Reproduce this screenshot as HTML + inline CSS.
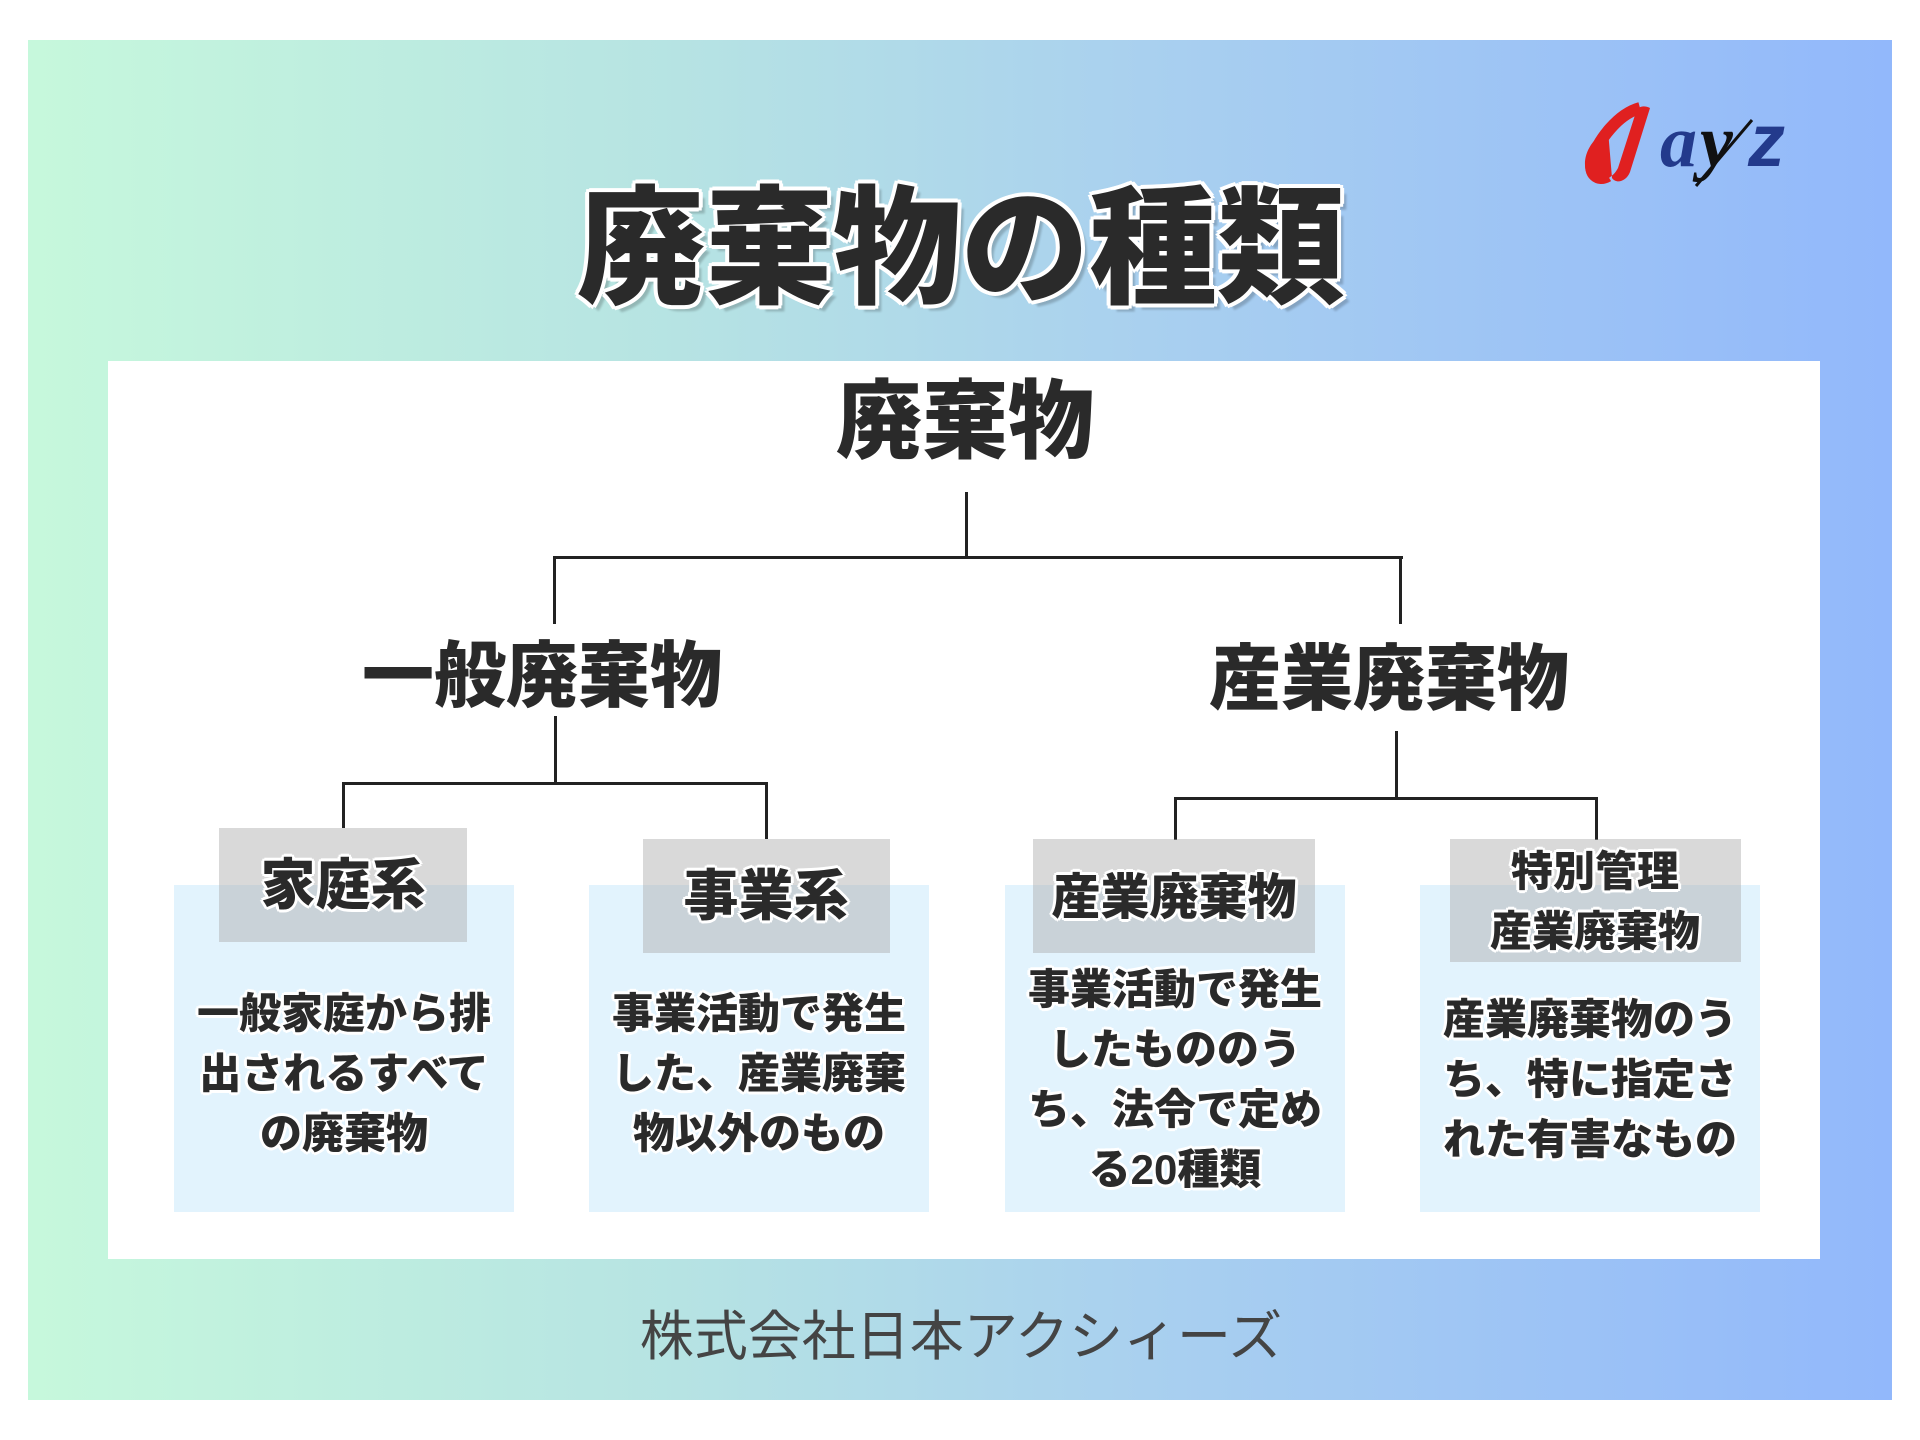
<!DOCTYPE html>
<html><head><meta charset="utf-8"><style>
*{margin:0;padding:0;box-sizing:border-box}
body{width:1920px;height:1440px;background:#fff;position:relative;overflow:hidden;font-family:"Liberation Sans","Noto Sans CJK JP",sans-serif}
.a{position:absolute}
.grad{left:28px;top:40px;width:1864px;height:1360px;background:linear-gradient(90deg,#c6f8dc 0%,#b6e3e3 35%,#a9d0ef 60%,#92b8fb 100%)}
.white{left:108px;top:361px;width:1712px;height:898px;background:#fff}
.t{position:absolute;text-align:center;font-weight:900;color:#2a2a2a;white-space:nowrap;transform:translateX(-50%)}
.ol{text-shadow:3px 0 #fff,-3px 0 #fff,0 3px #fff,0 -3px #fff,2px 2px #fff,-2px -2px #fff,2px -2px #fff,-2px 2px #fff}
.l{position:absolute;background:#222}
.box{position:absolute;background:#e2f3fd;top:885px;height:327px;width:340px}
.hd{position:absolute;background:rgba(170,170,170,0.45)}
.body{position:absolute;text-align:center;font-weight:900;color:#2a2a2a;font-size:42px;line-height:60px;width:340px}
</style></head><body>
<div class="a grad"></div>
<div class="a white"></div>
<svg class="a" style="left:1578px;top:100px" width="240" height="90" viewBox="0 0 240 90">
<path d="M62 8 C40 14 20 40 14 60 C10 74 20 82 30 76" fill="none" stroke="#e02020" stroke-width="12"/>
<path d="M30 30 C10 40 2 62 10 76 C18 86 34 80 40 68 L58 12 C60 6 66 5 72 8 L52 72 C48 82 38 84 34 78 Z" fill="#e02020"/>
<text x="82" y="66" font-family="Liberation Serif,serif" font-style="italic" font-weight="bold" font-size="74" fill="#233a8c">a</text>
<text x="122" y="66" font-family="Liberation Serif,serif" font-style="italic" font-weight="bold" font-size="74" fill="#111">y</text>
<text x="170" y="66" font-family="Liberation Sans,sans-serif" font-style="italic" font-weight="bold" font-size="74" fill="#233a8c">z</text>
<line x1="118" y1="86" x2="174" y2="20" stroke="#111" stroke-width="3"/>
</svg>
<div class="t ol" style="left:961px;top:172px;font-size:128px;line-height:155px;text-shadow:4px 0 #fff,-4px 0 #fff,0 4px #fff,0 -4px #fff,3px 3px #fff,-3px -3px #fff,3px -3px #fff,-3px 3px #fff,6px 6px 2px rgba(0,0,0,0.2)">廃棄物の種類</div>
<div class="t ol" style="left:965px;top:370px;font-size:86px;line-height:104px">廃棄物</div>
<div class="l" style="left:965px;top:492px;width:3px;height:66px"></div>
<div class="l" style="left:553px;top:556px;width:850px;height:3px"></div>
<div class="l" style="left:553px;top:556px;width:3px;height:68px"></div>
<div class="l" style="left:1399px;top:556px;width:3px;height:68px"></div>
<div class="t ol" style="left:542px;top:632px;font-size:72px;line-height:90px">一般廃棄物</div>
<div class="t ol" style="left:1389px;top:635px;font-size:72px;line-height:90px">産業廃棄物</div>
<div class="l" style="left:554px;top:716px;width:3px;height:68px"></div>
<div class="l" style="left:342px;top:782px;width:426px;height:3px"></div>
<div class="l" style="left:342px;top:782px;width:3px;height:46px"></div>
<div class="l" style="left:765px;top:782px;width:3px;height:57px"></div>
<div class="l" style="left:1395px;top:731px;width:3px;height:68px"></div>
<div class="l" style="left:1174px;top:797px;width:424px;height:3px"></div>
<div class="l" style="left:1174px;top:797px;width:3px;height:43px"></div>
<div class="l" style="left:1595px;top:797px;width:3px;height:43px"></div>
<div class="box" style="left:174px"></div>
<div class="box" style="left:589px"></div>
<div class="box" style="left:1005px"></div>
<div class="box" style="left:1420px"></div>
<div class="hd" style="left:219px;top:828px;width:248px;height:114px"></div>
<div class="hd" style="left:643px;top:839px;width:247px;height:114px"></div>
<div class="hd" style="left:1033px;top:839px;width:282px;height:114px"></div>
<div class="hd" style="left:1450px;top:839px;width:291px;height:123px"></div>
<div class="t ol" style="left:343px;top:852px;font-size:55px;line-height:66px">家庭系</div>
<div class="t ol" style="left:766px;top:863px;font-size:55px;line-height:66px">事業系</div>
<div class="t ol" style="left:1174px;top:868px;font-size:49px;line-height:60px">産業廃棄物</div>
<div class="t ol" style="left:1595px;top:842px;font-size:42px;line-height:60px">特別管理<br>産業廃棄物</div>
<div class="body ol" style="left:174px;top:984px">一般家庭から排<br>出されるすべて<br>の廃棄物</div>
<div class="body ol" style="left:589px;top:984px">事業活動で発生<br>した、産業廃棄<br>物以外のもの</div>
<div class="body ol" style="left:1005px;top:960px">事業活動で発生<br>したもののう<br>ち、法令で定め<br>る20種類</div>
<div class="body ol" style="left:1420px;top:990px">産業廃棄物のう<br>ち、特に指定さ<br>れた有害なもの</div>
<div class="t" style="left:961px;top:1302px;font-size:54px;line-height:70px;font-weight:400;color:#444">株式会社日本アクシィーズ</div>
</body></html>
